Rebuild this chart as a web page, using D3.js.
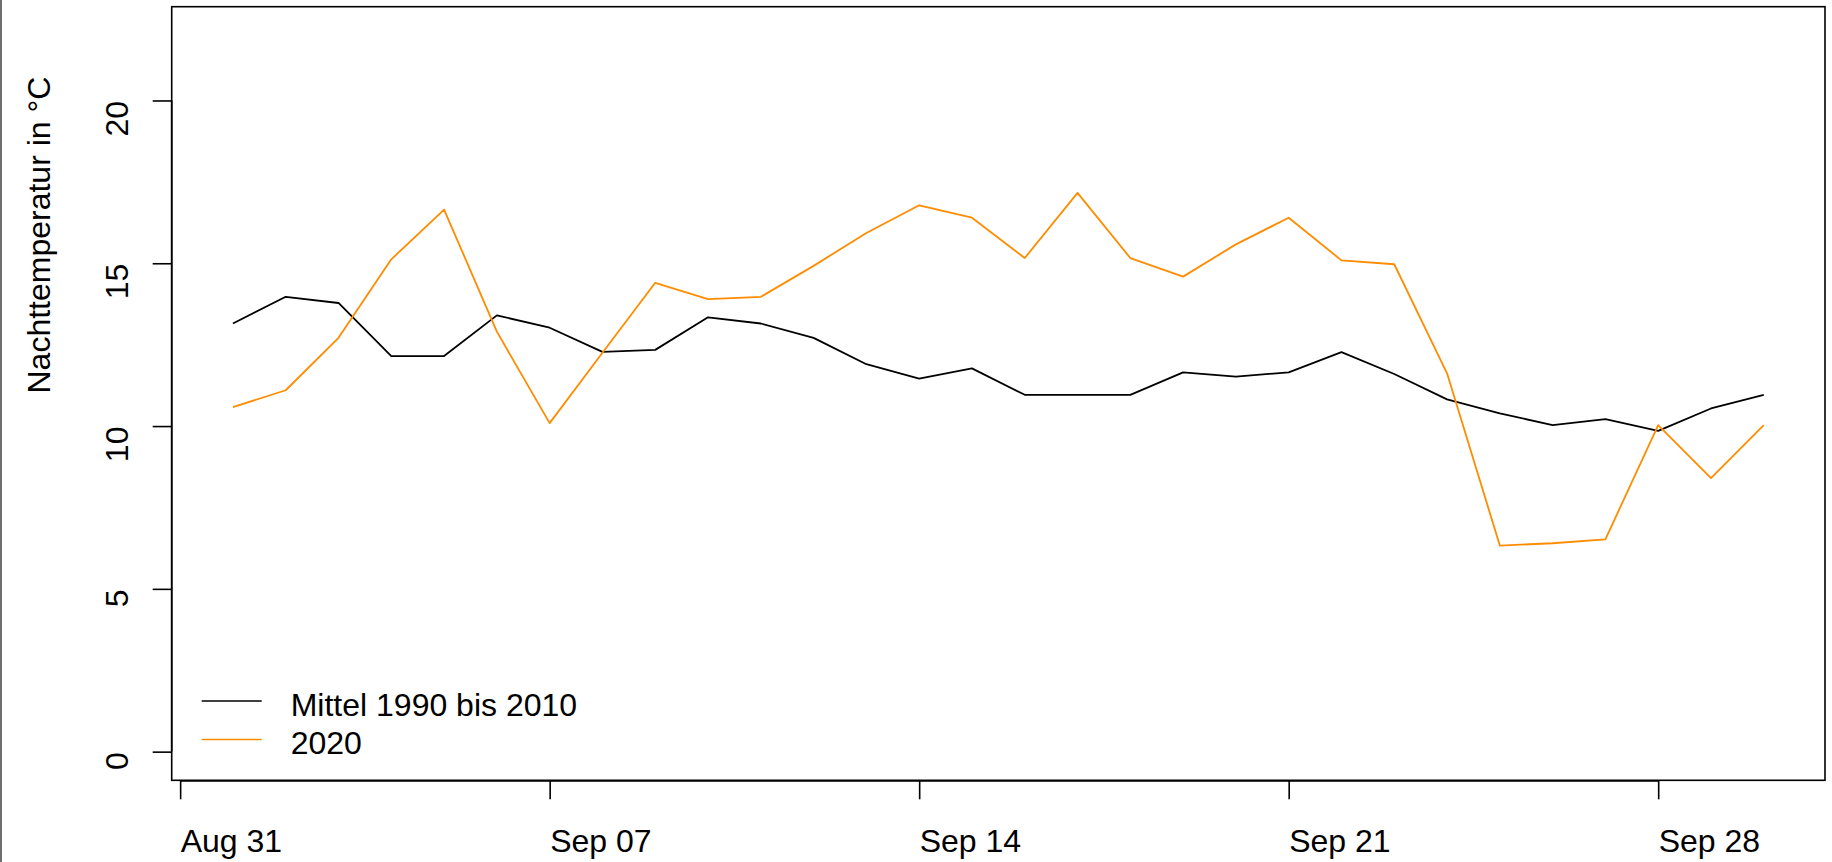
<!DOCTYPE html>
<html>
<head>
<meta charset="utf-8">
<script src="https://cdn.jsdelivr.net/npm/d3@7"></script>
<style>
  html, body { margin: 0; padding: 0; background: #fff; }
  svg text { font-family: "Liberation Sans", Arial, sans-serif; font-size: 32px; fill: #000; }
</style>
</head>
<body>
<svg id="chart"></svg>
<script>
// Nachttemperatur September 2020 vs Mittel 1990-2010
const days = ["2020-09-01", "2020-09-02", "2020-09-03", "2020-09-04", "2020-09-05", "2020-09-06",
    "2020-09-07", "2020-09-08", "2020-09-09", "2020-09-10", "2020-09-11", "2020-09-12",
    "2020-09-13", "2020-09-14", "2020-09-15", "2020-09-16", "2020-09-17", "2020-09-18",
    "2020-09-19", "2020-09-20", "2020-09-21", "2020-09-22", "2020-09-23", "2020-09-24",
    "2020-09-25", "2020-09-26", "2020-09-27", "2020-09-28", "2020-09-29", "2020-09-30"]

const mittel = [13.15, 13.97, 13.78, 12.15, 12.15, 13.40, 13.02, 12.28, 12.34, 13.34, 13.15, 12.71,
    11.90, 11.46, 11.77, 10.96, 10.96, 10.96, 11.65, 11.52, 11.65, 12.27, 11.60, 10.82,
    10.39, 10.03, 10.21, 9.85, 10.54, 10.96]

const y2020 = [10.58, 11.10, 12.71, 15.12, 16.65, 12.90, 10.09, 12.25, 14.40, 13.90, 13.97, 14.92,
    15.93, 16.78, 16.40, 15.16, 17.16, 15.16, 14.59, 15.58, 16.40, 15.09, 14.97, 11.62,
    6.33, 6.40, 6.52, 10.03, 8.40, 10.03]

const yTicks = [0, 5, 10, 15, 20]
const xTicks = ["2020-08-31", "2020-09-07", "2020-09-14", "2020-09-21", "2020-09-28"]
const seriesNames = ["Mittel 1990 bis 2010", "2020"]
const seriesColors = ["#000000", "#ff8c00"]

const width = 1832, height = 862
const plot = { left: 171.7, right: 1825, top: 6.7, bottom: 780.3 }

const parse = d3.timeParse("%Y-%m-%d")
const dates = days.map(parse)

const svg = d3.select("#chart")
    .attr("width", width)
    .attr("height", height)

// R style 4% padding around the data range
const dayMs = 24 * 3600 * 1000
const xSpan = dates[dates.length - 1] - dates[0]
const x = d3.scaleTime()
    .domain([new Date(+dates[0] - 0.04 * xSpan), new Date(+dates[dates.length - 1] + 0.04 * xSpan)])
    .range([plot.left, plot.right])

const y = d3.scaleLinear()
    .domain([0 - 0.04 * 22, 22 + 0.04 * 22])
    .range([plot.bottom, plot.top])

// grey edge on the left of the picture
svg.append("line")
    .attr("x1", 1).attr("x2", 1)
    .attr("y1", 0).attr("y2", height)
    .attr("stroke", "#6e6e6e")
    .attr("stroke-width", 2)

// lines
const line = d3.line()
    .x((d, i) => x(dates[i]))
    .y(d => y(d))

svg.append("path")
    .datum(mittel)
    .attr("d", line)
    .attr("fill", "none")
    .attr("stroke", seriesColors[0])
    .attr("stroke-width", 1.8)
    .attr("stroke-linejoin", "round")

svg.append("path")
    .datum(y2020)
    .attr("d", line)
    .attr("fill", "none")
    .attr("stroke", seriesColors[1])
    .attr("stroke-width", 1.8)
    .attr("stroke-linejoin", "round")

// box
svg.append("rect")
    .attr("x", plot.left)
    .attr("y", plot.top)
    .attr("width", plot.right - plot.left)
    .attr("height", plot.bottom - plot.top)
    .attr("fill", "none")
    .attr("stroke", "#000")
    .attr("stroke-width", 1.6)

// y axis
const yAxis = svg.append("g")
    .attr("transform", `translate(${plot.left},0)`)
    .call(d3.axisLeft(y).tickValues(yTicks).tickSize(19).tickSizeOuter(0))

yAxis.select(".domain")
    .attr("d", `M0,${y(yTicks[0])}V${y(yTicks[yTicks.length - 1])}`)
    .attr("stroke-width", 1.6)
yAxis.selectAll(".tick line").attr("stroke-width", 1.6)
yAxis.selectAll(".tick text")
    .attr("transform", "rotate(-90)")
    .attr("x", 0)
    .attr("y", -44)
    .attr("dy", 0)
    .attr("text-anchor", "end")
    .style("font-family", null)
    .style("font-size", null)
yAxis.attr("font-family", null).attr("font-size", null)

// x axis
const xTickDates = xTicks.map(parse)
const xAxis = svg.append("g")
    .attr("transform", `translate(0,${plot.bottom})`)
    .call(d3.axisBottom(x).tickValues(xTickDates).tickFormat(d3.timeFormat("%b %d")).tickSize(19).tickSizeOuter(0))

xAxis.select(".domain")
    .attr("d", `M${x(xTickDates[0])},0.6H${x(xTickDates[xTickDates.length - 1])}`)
    .attr("stroke-width", 1.6)
xAxis.selectAll(".tick line").attr("stroke-width", 1.6)
xAxis.selectAll(".tick text")
    .attr("y", 71.5)
    .attr("dy", 0)
    .attr("text-anchor", "start")
xAxis.attr("font-family", null).attr("font-size", null)

// y title
svg.append("text")
    .attr("transform", `translate(50,${(plot.top + plot.bottom) / 2}) rotate(-90)`)
    .attr("text-anchor", "start")
    .text("Nachttemperatur in °C")

// legend
const legend = svg.append("g")
    .attr("transform", "translate(201.7,701)")

seriesNames.forEach((name, i) => {
    legend.append("line")
        .attr("x1", 0).attr("x2", 60)
        .attr("y1", i * 38.5).attr("y2", i * 38.5)
        .attr("stroke", seriesColors[i])
        .attr("stroke-width", 1.6)
    legend.append("text")
        .attr("x", 89)
        .attr("y", i * 38.5 + 14.5)
        .text(name)
})
</script>
</body>
</html>
